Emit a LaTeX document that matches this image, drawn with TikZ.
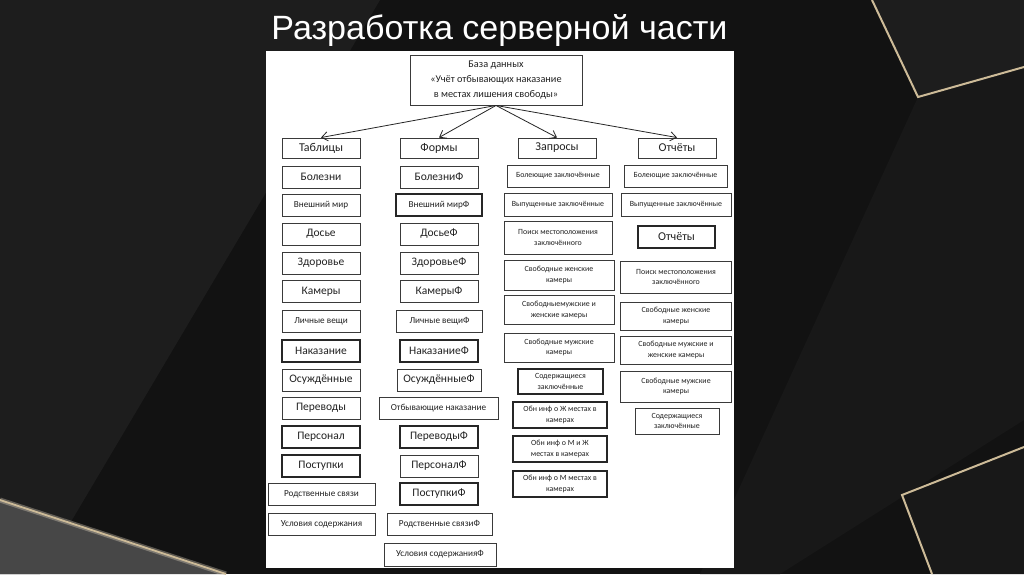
\documentclass[tikz,border=0pt]{standalone}
\usepackage{fontspec}
\setmainfont{Carlito}
\newfontfamily\titlefont{Liberation Sans}
\usetikzlibrary{arrows.meta}
\definecolor{bgbase}{HTML}{121212}
\definecolor{bglight}{HTML}{1D1D1D}
\definecolor{bgmid}{HTML}{181818}
\definecolor{gold}{HTML}{CDBB98}
\definecolor{boxline}{HTML}{3A3A3A}
\definecolor{boxtext}{HTML}{222222}
\tikzset{
  box/.style={draw=boxline, line width=0.9pt, fill=white, inner sep=1pt, align=center, text=boxtext},
  heavy/.style={draw=black!85, line width=1.15pt},
  fA/.style={font=\fontsize{12}{14}\selectfont},
  fB/.style={font=\fontsize{11.5}{13}\selectfont},
  fC/.style={font=\fontsize{9.2}{11}\selectfont},
  fD/.style={font=\fontsize{7.9}{10.5}\selectfont},
  fE/.style={font=\fontsize{10.3}{15}\selectfont},
  link/.style={draw=black!85, line width=0.8pt, -{Straight Barb[length=6pt,width=9pt]}}
}
\begin{document}
\begin{tikzpicture}[x=1pt,y=-1pt]
\useasboundingbox (0,0) rectangle (1024,574);
% background
\fill[bgbase] (0,0) rectangle (1024,574);
\fill[bglight] (0,0) -- (380,0) -- (40,574) -- (0,574) -- cycle;
\fill[bgmid] (918,97) -- (1024,67) -- (1024,420) -- (780,574) -- (700,574) -- cycle;
\fill[bglight] (872,0) -- (918,97) -- (1024,67) -- (1024,0) -- cycle;
\fill[bgmid] (902,495) -- (1024,447) -- (1024,574) -- (932,574) -- cycle;
\fill[black!72] (0,500) -- (226,574) -- (0,574) -- cycle;
\draw[gold, line width=2pt] (872,0) -- (918,97) -- (1024,67);
\draw[gold, line width=2pt] (1024,447) -- (902,495) -- (932,574);
\draw[gold!60, line width=5pt, opacity=0.35] (0,500) -- (226,574);
\draw[gold, line width=1.8pt] (0,500) -- (226,574);
% title
\node[text=white, inner sep=0, anchor=base] (title) at (499.5,39)
  {\resizebox{456pt}{25pt}{\titlefont Разработка серверной части}};
% white panel
\fill[white] (266,51) rectangle (734,568);
% top
\node[box, fE, minimum width=172pt, minimum height=50pt] (db) at (496,80)
  {База данных\\«Учёт отбывающих наказание\\в местах лишения свободы»};
% level 1
\node[box, fA, minimum width=78pt, minimum height=20pt] (tab) at (321,148) {Таблицы};
\node[box, fA, minimum width=78pt, minimum height=20pt] (frm) at (439,148) {Формы};
\node[box, fA, minimum width=78pt, minimum height=20pt] (zap) at (557,148) {Запросы};
\node[box, fA, minimum width=78pt, minimum height=20pt] (otc) at (677,148) {Отчёты};
\draw[link] (db.south) -- (tab.north);
\draw[link] (db.south) -- (frm.north);
\draw[link] (db.south) -- (zap.north);
\draw[link] (db.south) -- (otc.north);
% column 1
\node[box, fB, minimum width=78pt, minimum height=22pt] (t1) at (321,177) {Болезни};
\node[box, fC, minimum width=78pt, minimum height=22pt] (t2) at (321,205) {Внешний мир};
\node[box, fB, minimum width=78pt, minimum height=22pt] (t3) at (321,234) {Досье};
\node[box, fB, minimum width=78pt, minimum height=22pt] (t4) at (321,263) {Здоровье};
\node[box, fB, minimum width=78pt, minimum height=22pt] (t5) at (321,291.5) {Камеры};
\node[box, fC, minimum width=78pt, minimum height=22pt] (t6) at (321,321) {Личные вещи};
\node[box, heavy, fB, minimum width=78pt, minimum height=22pt] (t7) at (321,351) {Наказание};
\node[box, fB, minimum width=78pt, minimum height=22pt] (t8) at (321,380) {Осуждённые};
\node[box, fB, minimum width=78pt, minimum height=22pt] (t9) at (321,408) {Переводы};
\node[box, heavy, fB, minimum width=78pt, minimum height=22pt] (t10) at (321,437) {Персонал};
\node[box, heavy, fB, minimum width=78pt, minimum height=22pt] (t11) at (321,466) {Поступки};
\node[box, fC, minimum width=107pt, minimum height=22pt] (t12) at (321.5,494) {Родственные связи};
\node[box, fC, minimum width=107pt, minimum height=22pt] (t13) at (321.5,524) {Условия содержания};
% column 2
\node[box, fB, minimum width=78pt, minimum height=22pt] (f1) at (439,177) {БолезниФ};
\node[box, heavy, fC, minimum width=86pt, minimum height=22pt] (f2) at (439,205) {Внешний мирФ};
\node[box, fB, minimum width=78pt, minimum height=22pt] (f3) at (439,234) {ДосьеФ};
\node[box, fB, minimum width=78pt, minimum height=22pt] (f4) at (439,263) {ЗдоровьеФ};
\node[box, fB, minimum width=78pt, minimum height=22pt] (f5) at (439,291.5) {КамерыФ};
\node[box, fC, minimum width=86pt, minimum height=22pt] (f6) at (439.5,321) {Личные вещиФ};
\node[box, heavy, fB, minimum width=78pt, minimum height=22pt] (f7) at (439,351) {НаказаниеФ};
\node[box, fB, minimum width=84pt, minimum height=22pt] (f8) at (439,380) {ОсуждённыеФ};
\node[box, fC, minimum width=119pt, minimum height=22pt] (f9) at (438.5,408) {Отбывающие наказание};
\node[box, heavy, fB, minimum width=78pt, minimum height=22pt] (f10) at (439,437) {ПереводыФ};
\node[box, fB, minimum width=78pt, minimum height=22pt] (f11) at (439,466) {ПерсоналФ};
\node[box, heavy, fB, minimum width=78pt, minimum height=22pt] (f12) at (439,494) {ПоступкиФ};
\node[box, fC, minimum width=105pt, minimum height=22pt] (f13) at (439.5,524) {Родственные связиФ};
\node[box, fC, minimum width=112pt, minimum height=23pt] (f14) at (440,554.5) {Условия содержанияФ};
% column 3
\node[box, fD, minimum width=102pt, minimum height=22pt] (z1) at (558,176) {Болеющие заключённые};
\node[box, fD, minimum width=108pt, minimum height=23pt] (z2) at (558,204.5) {Выпущенные заключённые};
\node[box, fD, minimum width=108pt, minimum height=33pt] (z3) at (558,237.5) {Поиск местоположения\\заключённого};
\node[box, fD, minimum width=110pt, minimum height=30pt] (z4) at (559,275) {Свободные женские\\камеры};
\node[box, fD, minimum width=110pt, minimum height=29pt] (z5) at (559,310) {Свободныемужские и\\женские камеры};
\node[box, fD, minimum width=110pt, minimum height=29pt] (z6) at (559,347.5) {Свободные мужские\\камеры};
\node[box, heavy, fD, minimum width=85pt, minimum height=25pt] (z7) at (560.5,381.5) {Содержащиеся\\заключённые};
\node[box, heavy, fD, minimum width=94pt, minimum height=26pt] (z8) at (560,415) {Обн инф о Ж местах в\\камерах};
\node[box, heavy, fD, minimum width=94pt, minimum height=26pt] (z9) at (560,449) {Обн инф о М и Ж\\местах в камерах};
\node[box, heavy, fD, minimum width=94pt, minimum height=26pt] (z10) at (560,484) {Обн инф о М местах в\\камерах};
% column 4
\node[box, fD, minimum width=103pt, minimum height=22pt] (o1) at (675.5,176) {Болеющие заключённые};
\node[box, fD, minimum width=110pt, minimum height=23pt] (o2) at (676,204.5) {Выпущенные заключённые};
\node[box, heavy, fA, minimum width=77pt, minimum height=22pt] (o3) at (676.5,237) {Отчёты};
\node[box, fD, minimum width=111pt, minimum height=32pt] (o4) at (676,277) {Поиск местоположения\\заключённого};
\node[box, fD, minimum width=111pt, minimum height=28pt] (o5) at (676,316) {Свободные женские\\камеры};
\node[box, fD, minimum width=111pt, minimum height=28pt] (o6) at (676,350) {Свободные мужские и\\женские камеры};
\node[box, fD, minimum width=111pt, minimum height=31pt] (o7) at (676,386.5) {Свободные мужские\\камеры};
\node[box, fD, minimum width=84pt, minimum height=26pt] (o8) at (677,421) {Содержащиеся\\заключённые};
\end{tikzpicture}
\end{document}
